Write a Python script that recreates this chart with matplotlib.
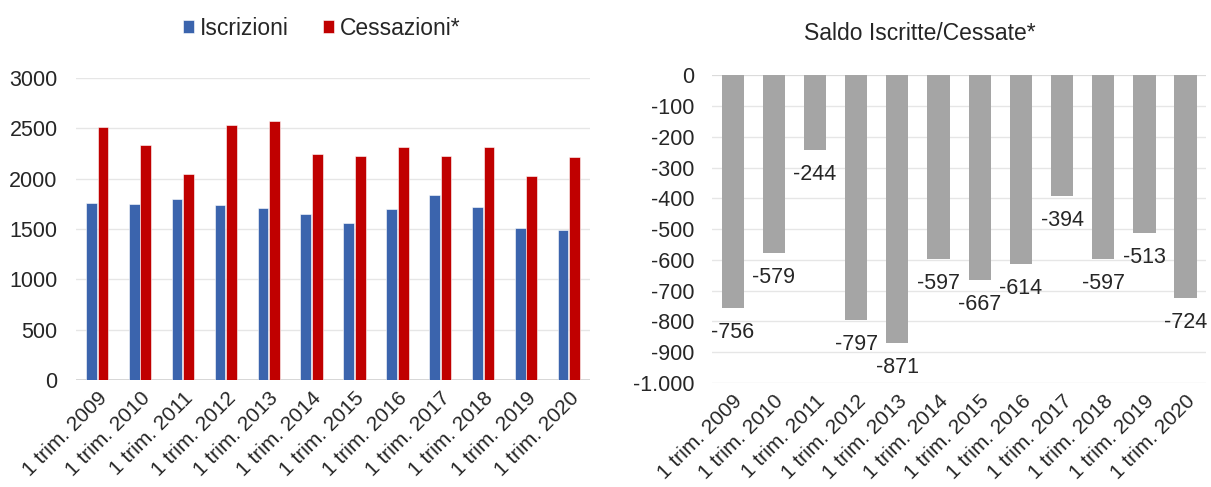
import matplotlib.pyplot as plt
import numpy as np
from matplotlib.ticker import FuncFormatter

plt.rcParams['font.family'] = ['Liberation Sans', 'DejaVu Sans']

# dati primo trimestre
anni = ['1 trim. 2009', '1 trim. 2010', '1 trim. 2011', '1 trim. 2012',
        '1 trim. 2013', '1 trim. 2014', '1 trim. 2015', '1 trim. 2016',
        '1 trim. 2017', '1 trim. 2018', '1 trim. 2019', '1 trim. 2020']
iscrizioni = [1760, 1752, 1798, 1740, 1706, 1652, 1562, 1703, 1836, 1714, 1515, 1494]
cessazioni = [2516, 2331, 2042, 2537, 2577, 2249, 2229, 2317, 2230, 2311, 2028, 2218]
saldo = [-756, -579, -244, -797, -871, -597, -667, -614, -394, -597, -513, -724]

blu = '#3b64ad'
rosso = '#c00000'
grigio = '#a5a5a5'
griglia = '#e6e6e6'
testo = '#262626'
fs = 15.5      # etichette assi e valori
fs_x = 15      # etichette anni
fs_tit = 16.5  # titolo e legenda

fig = plt.figure(figsize=(12.11, 4.87), dpi=100)
ax1 = fig.add_axes([0.0625, 0.2197, 0.425, 0.620])
ax2 = fig.add_axes([0.588, 0.2136, 0.408, 0.632])

x = np.arange(len(anni))
w = 0.25

# grafico iscrizioni / cessazioni
ax1.bar(x - w / 2 - 0.01, iscrizioni, w, color=blu, edgecolor='white', linewidth=0.4,
        label='Iscrizioni', zorder=3)
ax1.bar(x + w / 2 + 0.01, cessazioni, w, color=rosso, edgecolor='white', linewidth=0.4,
        label='Cessazioni*', zorder=3)
ax1.set_ylim(0, 3000)
ax1.set_yticks(range(0, 3001, 500))
ax1.set_xlim(-0.5, len(anni) - 0.5)
ax1.yaxis.grid(True, color=griglia, linewidth=1, zorder=0)
ax1.axhline(0, color='#d0d0d0', linewidth=1.2, zorder=2)
leg = ax1.legend(loc='center', bbox_to_anchor=(0.478, 1.165), ncol=2, frameon=False,
                 fontsize=fs_tit, handlelength=0.5, handleheight=0.5, handletextpad=0.25,
                 columnspacing=1.5)
for t in leg.get_texts():
    t.set_color(testo)

# grafico saldo
ax2.bar(x, saldo, 0.54, color=grigio, zorder=3)
ax2.set_ylim(-1000, 0)
ax2.set_yticks(range(-1000, 1, 100))
ax2.set_xlim(-0.5, len(anni) - 0.5)
ax2.yaxis.grid(True, color=griglia, linewidth=1, zorder=0)
ax2.axhline(0, color='#d9d9d9', linewidth=1.2, zorder=2)
ax2.yaxis.set_major_formatter(FuncFormatter(lambda v, p: f'{int(v):,}'.replace(',', '.')))
ax2.text(0.42, 1.135, 'Saldo Iscritte/Cessate*', transform=ax2.transAxes,
         ha='center', va='center', fontsize=fs_tit, color=testo)
for xi, v in zip(x, saldo):
    ax2.annotate(str(v), (xi, v), xytext=(0, -10), textcoords='offset points',
                 ha='center', va='top', fontsize=fs, color=testo, zorder=4)

for ax in (ax1, ax2):
    for s in ax.spines.values():
        s.set_visible(False)
    ax.tick_params(axis='both', length=0, labelsize=fs, colors=testo)
    ax.tick_params(axis='y', pad=13)
    ax.set_xticks(x)
    ax.set_xticklabels(anni, rotation=45, ha='right', rotation_mode='anchor', fontsize=fs_x)
    ax.tick_params(axis='x', pad=6)
    ax.set_axisbelow(True)

fig.savefig('out.png', dpi=100, facecolor='white')
